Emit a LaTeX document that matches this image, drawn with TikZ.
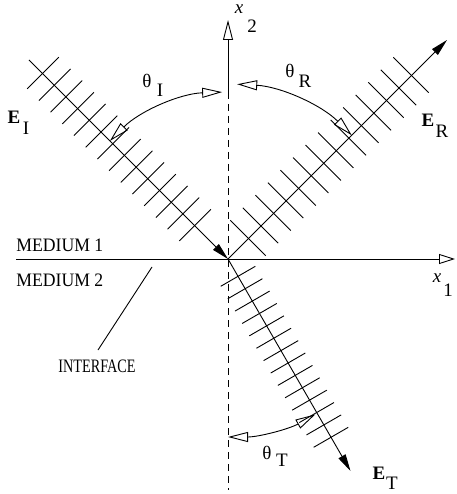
\documentclass[tikz,border=0pt]{standalone}
\usepackage{fontspec}
\setmainfont{Liberation Serif}
\usetikzlibrary{arrows.meta,calc}
\begin{document}
\begin{tikzpicture}[x=1pt,y=-1pt,line width=0.9pt,
  lbl/.style={inner sep=0pt,font=\fontsize{19}{19}\selectfont},
  openhead/.style={-{Triangle[open,length=20pt,width=10pt]}},
  anglearc/.style={{Triangle[open,length=20pt,width=10pt]}-{Triangle[open,length=20pt,width=10pt]}},
  rayhead/.style={-{Triangle[length=17pt,width=8pt]}},
  hatch/.style={line width=0.9pt},
  axisdash/.style={dash pattern=on 7pt off 5pt}]
\useasboundingbox (0,0) rectangle (456,494);
% key points
\coordinate (O) at (228,259);
\coordinate (V1) at (228,92);
\coordinate (Vtop) at (228,20);
\coordinate (Vbot) at (228,490);
\coordinate (H0) at (16,259);
\coordinate (H1) at (455,259);
\coordinate (Istart) at (29,60);
\coordinate (Rend) at (447,40);
\coordinate (Tend) at ($(O)+(122.5,212)$);
\coordinate (L1) at (152,267);
\coordinate (L2) at (98,350);
% axes
\draw[openhead] (V1) -- (Vtop);
\draw[axisdash] (V1) -- (Vbot);
\draw[-{Triangle[open,length=16pt,width=10pt]}] (H0) -- (H1);
\draw (L1) -- (L2);
% rays
\draw[rayhead] (Istart) -- (O);
\draw[rayhead] (O) -- (Rend);
\draw[rayhead] (O) -- (Tend);
% hatches
\foreach \k in {0,...,13}{
  \draw[hatch] ({43+11.7*\k-15.8},{73+11.7*\k+15.8}) -- ++(31.6,-31.6);
  \draw[hatch] ({248+12.54*\k-17.7},{238-12.54*\k-17.7}) -- ++(35.4,35.4);
  \pgfmathsetmacro\d{20+14.3*\k}
  \draw[hatch] ({228+0.5*\d-17.3},{259+0.866*\d+10}) -- ++(34.6,-20);
}
% angle arcs
\coordinate (aI) at ($(O)+(225:167)$);
\draw[anglearc] (aI) arc[start angle=225,end angle=268,radius=167];
\coordinate (aR) at ($(O)+(273:175)$);
\draw[anglearc] (aR) arc[start angle=273,end angle=315,radius=175];
\coordinate (aT) at ($(O)+(90:178)$);
\draw[anglearc] (aT) arc[start angle=90,end angle=61,radius=180];
% labels
\node[lbl] (x2) at (239,9) {\itshape x};
\node[lbl] (x2s) at (252,26) {2};
\node[lbl] (x1) at (437,278) {\itshape x};
\node[lbl] (x1s) at (448,290) {1};
\node[lbl] (EI) at (14,117) {\bfseries E};
\node[lbl] (EIs) at (26,128) {I};
\node[lbl] (ER) at (428,120) {\bfseries E};
\node[lbl] (ERs) at (442,131) {R};
\node[lbl] (ET) at (379,473) {\bfseries E};
\node[lbl] (ETs) at (392,483) {T};
\node[lbl] (thI) at (147,81) {θ};
\node[lbl] (thIs) at (160,90) {I};
\node[lbl] (thR) at (290,71) {θ};
\node[lbl] (thRs) at (305,81) {R};
\node[lbl] (thT) at (267,453) {θ};
\node[lbl] (thTs) at (282,460) {T};
\node[lbl,anchor=west] (m1) at (16,245) {\scalebox{0.93}[1]{MEDIUM 1}};
\node[lbl,anchor=west] (m2) at (16,280) {\scalebox{0.93}[1]{MEDIUM 2}};
\node[lbl] (intf) at (97,366) {\scalebox{0.75}[1]{INTERFACE}};
\end{tikzpicture}
\end{document}
